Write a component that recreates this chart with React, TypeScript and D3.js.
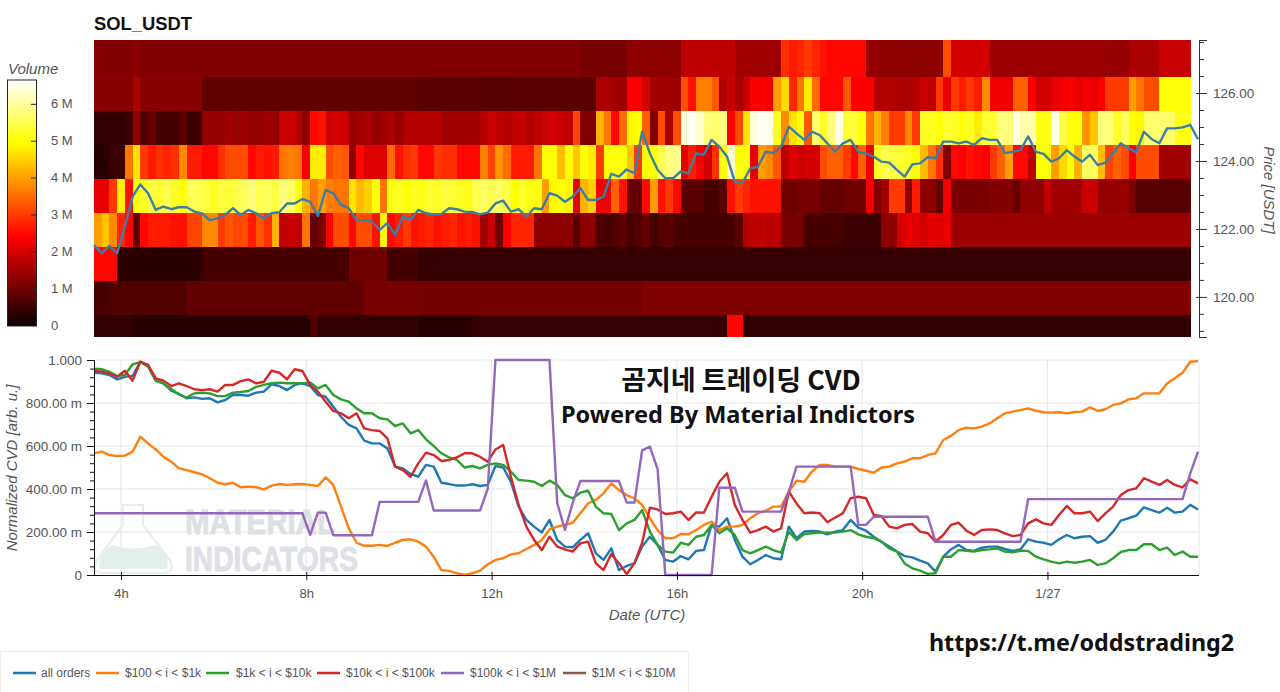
import React, { useRef, useEffect } from "react";
import * as d3 from "d3";

// volume per price bin, millions, one array per row, left to right (10 min columns)
const volTop = [
  1.2,1.2,1.2,1.2,1.2,1.3,1.2,1.2,1.2,1.2,
  1.2,1.2,1.2,1.2,1.2,1.2,1.2,1.2,1.2,1.2,
  1.2,1.2,1.2,1.2,1.2,1.2,1.2,1.2,1.2,1.2,
  1.2,1.2,1.2,1.2,1.2,1.2,1.2,1.2,1.2,1.2,
  1.2,1.2,1.2,1.2,1.2,1.2,1.2,1.2,1.2,1.2,
  1.2,1.2,1.2,1.2,1.2,1.2,1.2,1.2,1.2,1.2,
  1.2,1.2,1.2,1.1,1.1,1.1,1.1,1.1,1.1,1.3,
  1.3,1.3,1.3,1.3,1.3,1.3,1.8,1.8,1.8,1.8,
  1.8,1.8,1.8,1.5,1.5,1.5,1.5,1.5,1.5,2.9,
  2.7,2.8,3.0,2.8,2.6,2.5,2.5,2.5,2.5,2.5,
  1.4,1.4,1.3,1.3,1.3,1.3,1.3,1.3,1.3,1.3,
  3.2,2.0,2.0,2.0,2.0,2.0,1.45,1.45,1.45,1.45,
  1.45,1.45,1.45,1.45,1.45,1.45,1.45,1.45,1.45,1.45,
  1.45,1.4,1.4,1.4,1.6,1.6,1.6,1.6,1.9,1.9,
  1.9,1.9,
];
const vol126 = [
  1.25,1.25,1.25,1.25,1.25,1.6,1.25,1.25,1.25,1.25,
  1.25,1.25,1.25,1.25,.85,.85,.85,.85,.85,.85,
  .85,.85,.85,.85,.85,.85,.85,.85,.85,.85,
  .85,.85,.85,.85,.85,.85,.85,.85,.85,.85,
  .85,.85,.8,.8,.8,.8,.8,.8,.8,.8,
  .75,.75,.75,.75,.8,.8,.8,.8,.8,.8,
  .8,.8,.8,.8,.8,1.6,1.6,1.5,1.5,2.4,
  2.4,2.0,1.5,1.5,1.5,1.5,3.2,2.6,3.7,3.7,
  3.3,1.6,1.9,1.6,1.9,2.4,2.4,2.3,4.0,4.6,
  2.8,3.6,4.8,3.5,2.5,2.5,2.5,3.3,2.4,2.4,
  2.4,1.7,1.7,1.7,1.6,1.6,1.7,1.9,1.8,3.0,
  2.2,3.0,2.7,3.0,2.7,3.8,2.3,2.3,2.3,3.4,
  3.4,2.4,2.0,2.0,2.2,2.3,2.4,2.2,2.3,2.2,
  2.4,3.0,3.0,3.0,4.0,3.6,3.2,3.2,5.0,5.0,
  5.0,5.0,
];
const vol125 = [
  .4,.4,.4,.4,.5,1.4,.7,.9,.6,.6,
  .6,.8,.5,.5,1.4,1.4,1.4,1.5,1.4,1.5,
  1.4,1.4,1.5,1.4,1.9,1.9,1.7,1.3,2.5,2.6,
  1.9,2.0,1.9,1.4,1.5,1.6,1.4,1.5,1.6,1.4,
  1.7,1.7,1.7,1.7,1.7,1.5,1.5,1.5,1.5,1.5,
  1.7,1.9,1.8,1.7,1.8,1.9,1.7,1.8,1.9,2.0,
  1.9,1.8,3.1,1.2,1.2,4.2,3.6,2.5,3.5,4.9,
  5.0,3.4,1.2,3.2,1.6,3.2,6.4,6.6,6.3,5.8,
  5.7,5.8,2.4,3.2,4.7,6.4,6.6,6.5,5.2,3.8,
  4.7,5.0,3.3,5.7,5.2,5.8,6.5,5.3,5.4,5.0,
  3.6,4.2,3.7,3.0,3.0,3.8,3.0,5.2,5.2,5.0,
  5.3,5.2,5.0,5.2,4.8,5.3,5.3,5.8,5.8,6.5,
  6.1,6.1,5.1,5.1,6.5,5.4,5.0,5.0,3.9,4.4,
  5.8,5.8,5.2,5.6,5.0,4.9,5.7,5.7,5.7,5.7,
  5.1,5.1,
];
const vol124 = [
  .3,.3,.5,.5,3.6,4.7,3.0,2.7,2.9,2.8,
  2.9,3.8,2.7,2.7,2.5,2.5,2.9,3.2,3.2,3.2,
  2.5,2.7,2.6,2.7,3.6,3.7,3.6,2.4,4.8,4.8,
  3.2,3.4,3.3,1.3,2.5,2.1,2.1,2.1,3.5,2.6,
  2.9,3.0,2.5,2.5,3.0,2.9,2.9,2.5,2.5,2.5,
  3.7,3.1,3.9,3.5,2.7,2.7,2.7,3.6,5.0,5.0,
  4.3,5.0,4.4,5.0,4.8,3.0,5.0,5.0,5.0,4.4,
  3.0,5.0,5.0,5.5,5.8,5.9,2.2,2.7,2.4,2.0,
  2.9,5.0,6.3,5.0,5.0,2.2,4.0,3.8,3.3,1.8,
  2.1,1.9,2.0,2.0,3.2,3.4,3.4,3.0,2.5,3.4,
  2.3,5.2,5.5,5.4,5.3,5.2,5.0,4.3,3.6,2.9,
  1.2,2.5,2.4,2.6,2.5,2.4,3.0,3.4,4.0,2.5,
  2.5,1.8,5.0,5.0,4.0,4.6,5.0,4.2,5.6,5.6,
  4.3,3.1,3.4,3.2,2.4,3.2,3.2,3.2,1.5,1.5,
  1.5,1.5,
];
const vol123 = [
  2.2,2.2,3.0,4.8,2.6,5.0,5.2,5.4,5.3,5.5,
  5.2,5.0,5.6,5.5,5.4,5.2,5.4,5.3,5.5,5.6,
  5.8,5.5,5.6,5.4,5.8,5.6,5.0,4.2,3.6,4.0,
  3.7,3.6,3.6,4.7,4.3,4.5,5.0,3.6,5.1,5.2,
  5.0,5.2,5.1,5.3,5.2,5.4,5.3,5.2,5.1,5.5,
  5.6,5.5,5.6,5.4,5.0,5.3,5.1,5.1,4.0,4.9,
  5.0,4.9,2.2,4.2,4.5,2.3,2.3,3.4,2.6,.9,
  .9,2.5,4.0,2.6,3.0,2.5,.8,.8,.8,.6,
  .6,.8,2.6,3.0,2.8,2.6,2.6,2.6,2.6,1.0,
  1.0,1.1,1.1,1.1,.9,.9,.9,1.0,1.0,1.0,
  2.3,1.2,1.5,3.0,3.0,1.3,2.7,1.3,1.3,.9,
  2.3,1.1,1.1,1.1,1.1,1.1,1.2,1.2,1.2,.9,
  1.3,1.3,1.3,1.8,1.5,1.5,1.5,1.5,1.9,1.9,
  1.4,1.4,1.4,1.4,1.1,.75,.75,.75,.75,.75,
  .75,.75,
];
const vol122 = [
  4.0,4.4,3.8,2.8,2.5,.8,2.5,2.7,2.7,2.7,
  2.6,2.6,3.1,3.1,3.8,3.8,3.0,3.3,3.1,3.2,
  2.7,3.3,2.9,4.2,1.8,1.9,1.8,3.6,.9,1.1,
  2.4,3.2,3.2,2.5,3.2,3.2,2.6,4.9,2.5,2.7,
  3.0,2.6,2.7,2.8,2.6,2.7,2.8,2.6,2.7,2.6,
  1.5,1.9,1.0,2.4,2.8,2.8,2.8,1.3,1.3,1.3,
  1.3,1.3,.8,1.3,1.3,.7,.6,.7,.8,.6,
  .7,.9,.6,.7,.8,.6,.6,.6,.6,.6,
  .6,.6,.6,.8,1.7,1.8,1.8,1.7,1.8,1.1,
  1.1,1.1,.6,.6,.6,.6,.6,.5,.5,.5,
  .5,.5,1.3,1.3,2.0,2.2,2.1,2.0,2.2,2.1,
  2.2,1.45,1.45,1.45,1.45,1.45,1.45,1.45,1.45,1.45,
  1.45,1.45,1.45,1.45,1.45,1.45,1.45,1.45,1.45,1.45,
  1.45,1.45,1.45,1.45,1.45,1.45,1.45,1.45,1.45,1.45,
  1.45,1.45,
];
const vol121 = [
  2.5,2.5,2.5,.35,.35,.35,.35,.35,.35,.35,
  .35,.35,.35,.35,.6,.6,.6,.6,.6,.6,
  .6,.6,.6,.6,.6,.6,.6,.6,.6,.6,
  .6,.6,.6,1.0,1.0,1.0,1.0,1.0,.6,.6,
  .6,.6,.45,.45,.45,.45,.45,.45,.45,.45,
  .45,.45,.45,.45,.45,.45,.45,.45,.45,.45,
  .45,.45,.45,.45,.45,.45,.45,.45,.45,.45,
  .45,.45,.45,.45,.45,.45,.45,.45,.45,.45,
  .45,.45,.45,.45,.45,.45,.45,.45,.45,.45,
  .45,.45,.45,.45,.45,.45,.45,.45,.45,.45,
  .45,.45,.45,.45,.45,.45,.45,.45,.45,.45,
  .45,.45,.45,.45,.45,.45,.45,.45,.45,.45,
  .45,.45,.45,.45,.45,.45,.45,.45,.45,.45,
  .45,.45,.45,.45,.45,.45,.45,.45,.45,.45,
  .45,.45,
];
const vol120 = [
  .6,.6,.7,.7,.7,.7,.7,.7,.7,.7,
  .7,.7,.85,.85,.85,.85,.85,.85,.85,.85,
  .85,.85,.85,.85,.85,.85,.85,.85,.85,.85,
  .85,.85,.85,.85,.85,1.1,1.1,1.1,1.1,1.1,
  1.1,1.1,1.05,1.05,1.05,1.05,1.05,1.05,1.05,1.05,
  1.05,1.05,1.05,1.05,1.05,1.05,1.05,1.05,1.05,1.05,
  1.05,1.05,1.05,1.05,1.05,1.05,1.05,1.05,1.05,1.05,
  1.05,1.15,1.15,1.15,1.15,1.15,1.15,1.15,1.15,1.15,
  1.15,1.15,1.15,1.15,1.15,1.15,1.15,1.15,1.15,1.15,
  1.15,1.15,1.15,1.15,1.15,1.15,1.15,1.15,1.15,1.15,
  1.15,1.15,1.15,1.15,1.15,1.15,1.15,1.15,1.15,1.15,
  1.15,1.15,1.15,1.15,1.15,1.15,1.15,1.15,1.15,1.15,
  1.15,1.15,1.15,1.15,1.15,1.15,1.15,1.15,1.15,1.15,
  1.15,1.15,1.15,1.15,1.15,1.15,1.15,1.15,1.15,1.15,
  1.15,1.15,
];
const vol119 = [
  .4,.4,.4,.4,.4,.3,.3,.3,.3,.3,
  .3,.3,.3,.3,.3,.3,.3,.3,.3,.3,
  .3,.3,.3,.3,.3,.3,.3,.3,.7,.4,
  .4,.4,.4,.4,.4,.4,.4,.4,.4,.4,
  .4,.4,.3,.3,.3,.3,.3,.3,.3,.45,
  .45,.45,.45,.45,.45,.45,.45,.45,.45,.45,
  .45,.45,.45,.45,.45,.45,.45,.45,.45,.45,
  .45,.45,.45,.45,.45,.45,.45,.45,.45,.45,
  .45,.45,2.5,2.5,.4,.4,.4,.4,.4,.4,
  .4,.4,.4,.4,.4,.4,.4,.4,.4,.4,
  .4,.4,.4,.4,.4,.4,.4,.4,.4,.4,
  .4,.4,.4,.4,.4,.4,.4,.4,.4,.4,
  .4,.4,.4,.4,.4,.4,.4,.4,.4,.4,
  .4,.4,.4,.4,.4,.4,.4,.4,.4,.4,
  .4,.4,
];
// bottom to top, each row starts at its lower bin edge
const volRows = [vol119, vol120, vol121, vol122, vol123, vol124, vol125, vol126, volTop];
const binEdges = [118.47, 119.47, 120.47, 121.47, 122.47, 123.47, 124.47, 125.47, 126.47, 127.6];

const price = [
  121.53,121.28,121.5,121.28,122.07,122.95,123.31,123.05,122.56,122.66,
  122.58,122.64,122.64,122.51,122.46,122.26,122.31,122.41,122.61,122.41,
  122.56,122.46,122.31,122.46,122.49,122.75,122.75,122.88,122.8,122.38,
  123.15,123.05,122.71,122.61,122.25,122.26,122.22,121.97,122.17,121.82,
  122.36,122.26,122.56,122.46,122.43,122.44,122.61,122.58,122.51,122.5,
  122.43,122.48,122.75,122.83,122.51,122.58,122.36,122.61,122.58,123.05,
  122.98,122.8,122.95,123.2,122.85,122.85,122.95,123.62,123.54,123.75,
  123.64,124.86,124.23,123.74,123.49,123.49,123.69,123.64,124.23,124.18,
  124.62,124.42,124.13,123.39,123.36,123.78,123.83,124.27,124.23,124.42,
  125.01,124.81,124.62,124.86,124.76,124.52,124.27,124.52,124.62,124.27,
  124.22,124.13,123.98,123.95,123.74,123.54,123.9,123.93,124.11,124.08,
  124.57,124.57,124.52,124.57,124.47,124.67,124.62,124.62,124.23,124.27,
  124.32,124.72,124.27,124.21,123.98,124.08,124.32,124.13,123.98,124.18,
  123.88,123.95,124.23,124.52,124.37,124.27,124.86,124.64,124.52,124.96,
  124.96,124.99,125.06,124.64,
];

const allOrders = [
  .941,.938,.93,.91,.922,.926,.992,.972,.904,.891,
  .857,.842,.822,.826,.819,.822,.803,.814,.837,.837,
  .834,.848,.853,.887,.879,.86,.884,.891,.879,.837,
  .829,.783,.736,.698,.682,.625,.612,.612,.589,.504,
  .496,.47,.457,.512,.504,.429,.423,.416,.416,.422,
  .414,.419,.507,.5,.434,.318,.256,.225,.198,.256,
  .163,.132,.129,.163,.194,.101,.07,.124,.023,.042,
  .054,.132,.178,.14,.07,.062,.088,.073,.112,.116,
  .233,.225,.264,.163,.085,.05,.07,.093,.078,.073,
  .225,.171,.202,.205,.202,.189,.202,.209,.256,.22,
  .206,.178,.155,.132,.109,.088,.082,.067,.054,.016,
  .085,.119,.14,.116,.112,.127,.132,.132,.121,.112,
  .119,.166,.155,.15,.14,.166,.186,.171,.178,.181,
  .15,.163,.202,.253,.264,.276,.315,.302,.29,.313,
  .29,.295,.326,.305,
];
const cvd100to1k = [
  .566,.574,.558,.553,.555,.574,.643,.612,.584,.55,
  .527,.496,.488,.478,.468,.45,.429,.422,.429,.408,
  .411,.408,.398,.416,.423,.419,.422,.423,.419,.414,
  .454,.419,.318,.217,.15,.136,.136,.14,.135,.15,
  .163,.166,.155,.132,.085,.023,.019,.008,0,.008,
  .02,.05,.07,.078,.096,.101,.121,.14,.163,.212,
  .225,.233,.243,.287,.333,.349,.38,.426,.395,.372,
  .357,.326,.264,.209,.171,.171,.191,.189,.209,.233,
  .248,.209,.225,.225,.233,.264,.287,.299,.318,.318,
  .388,.439,.434,.481,.512,.512,.504,.504,.504,.493,
  .485,.476,.5,.504,.519,.527,.543,.543,.558,.566,
  .628,.647,.674,.685,.682,.69,.705,.729,.752,.76,
  .767,.775,.764,.757,.755,.757,.752,.758,.76,.78,
  .763,.771,.791,.798,.817,.822,.845,.845,.845,.891,
  .915,.941,.992,.995,
];
const cvd1kto10k = [
  .96,.957,.945,.925,.93,.98,.99,.97,.905,.89,
  .865,.84,.825,.845,.848,.845,.832,.832,.848,.851,
  .856,.875,.884,.892,.895,.892,.892,.892,.895,.868,
  .884,.837,.817,.806,.775,.752,.752,.729,.724,.693,
  .705,.659,.674,.631,.6,.566,.547,.535,.5,.507,
  .496,.512,.519,.512,.481,.442,.439,.434,.414,.439,
  .419,.372,.357,.383,.392,.318,.287,.284,.209,.24,
  .256,.302,.202,.14,.109,.104,.15,.14,.178,.186,
  .233,.194,.217,.186,.116,.101,.116,.132,.116,.104,
  .202,.163,.191,.194,.197,.197,.197,.202,.209,.189,
  .178,.171,.155,.124,.109,.054,.031,.02,.005,.008,
  .085,.085,.116,.113,.109,.116,.119,.124,.109,.105,
  .113,.112,.085,.073,.062,.054,.062,.057,.062,.07,
  .047,.054,.078,.107,.116,.116,.143,.143,.116,.127,
  .093,.109,.085,.085,
];
const cvd10kto100k = [
  .95,.946,.938,.922,.95,.904,.992,.977,.915,.904,
  .879,.891,.879,.864,.86,.864,.853,.884,.884,.902,
  .91,.891,.899,.95,.941,.91,.957,.949,.884,.853,
  .806,.763,.752,.729,.752,.682,.674,.67,.636,.504,
  .488,.457,.519,.569,.558,.53,.535,.547,.566,.566,
  .55,.527,.584,.605,.457,.326,.225,.163,.116,.178,
  .132,.119,.109,.147,.155,.054,.023,.098,.054,.005,
  .054,.15,.313,.305,.284,.287,.295,.256,.291,.29,
  .364,.434,.473,.326,.256,.197,.209,.225,.202,.217,
  .388,.333,.287,.291,.287,.245,.267,.287,.357,.364,
  .357,.279,.274,.225,.217,.233,.237,.202,.194,.155,
  .186,.233,.243,.206,.186,.209,.212,.209,.194,.181,
  .186,.24,.259,.24,.233,.279,.321,.287,.287,.295,
  .251,.287,.318,.372,.395,.403,.45,.434,.419,.442,
  .419,.408,.445,.426,
];
const cvd100kto1M = [
  .287,.287,.287,.287,.287,.287,.287,.287,.287,.287,
  .287,.287,.287,.287,.287,.287,.287,.287,.287,.287,
  .287,.287,.287,.287,.287,.287,.287,.287,.187,.29,
  .29,.185,.185,.185,.185,.185,.185,.34,.34,.34,
  .34,.34,.34,.44,.3,.3,.3,.3,.3,.3,
  .3,.4,1,1,1,1,1,1,1,1,
  .335,.21,.335,.437,.437,.437,.437,.437,.437,.337,
  .337,.58,.597,.493,0,0,0,0,0,0,
  0,.406,.406,.406,.295,.295,.295,.295,.295,.295,
  .388,.504,.504,.504,.504,.504,.504,.504,.504,.233,
  .233,.271,.271,.271,.271,.271,.271,.271,.271,.155,
  .155,.155,.155,.155,.155,.155,.155,.155,.155,.155,
  .155,.353,.353,.353,.353,.353,.353,.353,.353,.353,
  .353,.353,.353,.353,.353,.353,.353,.353,.353,.353,
  .353,.353,.473,.574,
];

const lineSeries = [allOrders, cvd100to1k, cvd1kto10k, cvd10kto100k, cvd100kto1M];
const legendNames = ["all orders", "$100 < i < $1k", "$1k < i < $10k", "$10k < i < $100k", "$100k < i < $1M", "$1M < i < $10M"];
const legendColors = ["#1f77b4", "#ff7f0e", "#2ca02c", "#d62728", "#9467bd", "#8c564b"];
const legendLineX = [13, 96, 206, 317, 441, 563];
const legendTextX = [41, 125, 236, 346, 470, 592];

const priceTicks = [120, 122, 124, 126];
const priceMinorTicks = [119, 119.5, 120.5, 121, 121.5, 122.5, 123, 123.5, 124.5, 125, 125.5, 126.5, 127, 127.5];
const cvdTicks = [0, 0.2, 0.4, 0.6, 0.8, 1];
const cvdTickLabels = ["0", "200.00 m", "400.00 m", "600.00 m", "800.00 m", "1.000"];
const cvdMinorTicks = [.04, .08, .12, .16, .24, .28, .32, .36, .44, .48, .52, .56, .64, .68, .72, .76, .84, .88, .92, .96];
const volTicks = [0, 1, 2, 3, 4, 5, 6];
const hourTicks = [4, 8, 12, 16, 20, 24];

const sans = "'Liberation Sans', Arial, sans-serif";
const grey = "#555";
const t0 = Date.UTC(2022, 0, 26, 3, 25);
const stepMs = 10 * 60 * 1000;
const timeAt = (i: number) => new Date(t0 + i * stepMs);
const hourDate = (h: number) => new Date(Date.UTC(2022, 0, 26, h));

export default function App() {
  const ref = useRef<SVGSVGElement>(null);

  useEffect(() => {
    const svg = d3.select(ref.current);
    svg.selectAll("*").remove();

    const x = d3.scaleUtc().domain([timeAt(0), timeAt(143)]).range([94, 1198]);
    const priceY = d3.scaleLinear().domain([118.82, 127.56]).range([337, 40]);
    const cvdY = d3.scaleLinear().domain([0, 1]).range([575, 360]);
    const volMax = 6.66;
    const hot = d3.scaleLinear<string>()
      .domain([0, 0.365 * volMax, 0.746 * volMax, volMax])
      .range(["#0a0000", "#ff0000", "#ffff00", "#ffffff"])
      .clamp(true);
    const volY = d3.scaleLinear().domain([0, volMax]).range([325.5, 80]);

    // heatmap
    const clip = svg.append("clipPath").attr("id", "heat");
    clip.append("rect").attr("x", 94).attr("y", 40).attr("width", 1098).attr("height", 297);
    const heat = svg.append("g").attr("clip-path", "url(#heat)").attr("shape-rendering", "crispEdges");
    volRows.forEach((row, r) => {
      heat.selectAll(null).data(row).enter().append("rect")
        .attr("x", (_, c) => x(timeAt(c)))
        .attr("width", (_, c) => x(timeAt(c + 1)) - x(timeAt(c)) + 0.6)
        .attr("y", priceY(binEdges[r + 1]))
        .attr("height", priceY(binEdges[r]) - priceY(binEdges[r + 1]))
        .attr("fill", (d) => hot(d));
    });

    const priceLine = d3.line<number>().x((_, i) => x(timeAt(i))).y((d) => priceY(d));
    svg.append("path").datum(price)
      .attr("fill", "none").attr("stroke", "#3b7ea6").attr("stroke-width", 2.4)
      .attr("stroke-linejoin", "round").attr("d", priceLine);

    // price axis
    const pa = svg.append("g").attr("transform", "translate(1199,0)");
    pa.call(d3.axisRight(priceY).tickValues(priceMinorTicks).tickSize(5).tickFormat(() => ""));
    const pb = svg.append("g").attr("transform", "translate(1199,0)");
    pb.call(d3.axisRight(priceY).tickValues(priceTicks).tickSize(8).tickPadding(6).tickFormat(d3.format(".2f")));
    pb.selectAll(".tick line").attr("x1", -3);
    pb.selectAll("text").attr("font-size", 13.5).attr("font-family", sans).attr("fill", grey);
    [pa, pb].forEach((g) => { g.select(".domain").attr("stroke", "#333"); g.selectAll(".tick line").attr("stroke", "#333"); });
    svg.append("text").attr("transform", "translate(1264,190) rotate(90)")
      .attr("text-anchor", "middle").attr("font-style", "italic").attr("font-size", 15)
      .attr("font-family", sans).attr("fill", grey).text("Price [USDT]");

    svg.append("text").attr("x", 94).attr("y", 29.5).attr("font-size", 18.4).attr("font-weight", "bold")
      .attr("font-family", sans).attr("fill", "#111").text("SOL_USDT");

    // colorbar
    const defs = svg.append("defs");
    const grad = defs.append("linearGradient").attr("id", "hotbar").attr("x1", 0).attr("x2", 0).attr("y1", 1).attr("y2", 0);
    hot.domain().forEach((d) => grad.append("stop").attr("offset", d / volMax).attr("stop-color", hot(d)));
    svg.append("rect").attr("x", 7.5).attr("y", 80).attr("width", 29).attr("height", 246)
      .attr("fill", "url(#hotbar)").attr("stroke", "#222");
    svg.append("g").selectAll("line").data(volTicks.slice(1)).enter().append("line")
      .attr("x1", 31).attr("x2", 36).attr("y1", (d) => volY(d)).attr("y2", (d) => volY(d)).attr("stroke", "#222");
    svg.append("g").selectAll("text").data(volTicks).enter().append("text")
      .attr("x", 51).attr("y", (d) => volY(d) + 4).attr("font-size", 13).attr("font-family", sans).attr("fill", grey)
      .text((d) => (d === 0 ? "0" : `${d} M`));
    svg.append("text").attr("x", 8).attr("y", 74).attr("font-size", 15).attr("font-style", "italic")
      .attr("font-family", sans).attr("fill", grey).text("Volume");

    // cvd grid
    const grid = svg.append("g").attr("stroke", "#e6e6e6");
    grid.selectAll(null).data(cvdTicks.slice(1)).enter().append("line")
      .attr("x1", 94).attr("x2", 1199).attr("y1", (d) => cvdY(d)).attr("y2", (d) => cvdY(d));
    grid.selectAll(null).data(hourTicks).enter().append("line")
      .attr("x1", (d) => x(hourDate(d))).attr("x2", (d) => x(hourDate(d))).attr("y1", 360).attr("y2", 575);
    grid.append("line").attr("x1", 1199).attr("x2", 1199).attr("y1", 360).attr("y2", 575);

    // watermark
    const mark = svg.append("g");
    mark.append("path").attr("d", "M100,569 Q97,552 113,545 Q135,552 155,545 Q171,552 167,569 Z").attr("fill", "#e4efed");
    mark.append("path").attr("d", "M123,505 H143 V525 L170,560 Q176,573 163,573 H104 Q90,573 97,560 L123,525 Z")
      .attr("fill", "none").attr("stroke", "#e9ecec").attr("stroke-width", 2);
    [["MATERIAL", 534, 150], ["INDICATORS", 571, 173]].forEach(([t, y, w]) => {
      mark.append("text").attr("x", 185).attr("y", y as number).attr("font-size", 35).attr("font-weight", "bold")
        .attr("font-family", sans).attr("fill", "#dde1e6").attr("stroke", "#dde1e6").attr("stroke-width", 1)
        .attr("textLength", w as number).attr("lengthAdjust", "spacingAndGlyphs").text(t as string);
    });

    // cvd lines
    const cvdLine = d3.line<number>().x((_, i) => x(timeAt(i))).y((d) => cvdY(d));
    lineSeries.forEach((s, k) => {
      svg.append("path").datum(s).attr("fill", "none").attr("stroke", legendColors[k])
        .attr("stroke-width", 2.4).attr("stroke-linejoin", "round").attr("d", cvdLine);
    });

    // cvd axes
    const ya = svg.append("g").attr("transform", "translate(94,0)");
    ya.call(d3.axisLeft(cvdY).tickValues(cvdMinorTicks).tickSize(4).tickFormat(() => ""));
    const yb = svg.append("g").attr("transform", "translate(94,0)");
    yb.call(d3.axisLeft(cvdY).tickValues(cvdTicks).tickSize(7).tickPadding(5)
      .tickFormat((_, i) => cvdTickLabels[i]));
    yb.selectAll("text").attr("font-size", 13.5).attr("font-family", sans).attr("fill", grey);
    const xa = svg.append("g").attr("transform", "translate(0,575)");
    xa.call(d3.axisBottom(x).tickValues(hourTicks.map(hourDate)).tickSize(5).tickPadding(9)
      .tickFormat((d) => ((d as Date).getUTCHours() === 0 ? "1/27" : `${(d as Date).getUTCHours()}h`)));
    xa.selectAll(".tick line").attr("y1", -3);
    xa.selectAll("text").attr("font-size", 13).attr("font-family", sans).attr("fill", grey);
    xa.select(".domain").attr("d", "M94,0.5H1199");
    [ya, yb, xa].forEach((g) => { g.select(".domain").attr("stroke", "#111"); g.selectAll(".tick line").attr("stroke", "#111"); });
    svg.append("text").attr("transform", "translate(17,468) rotate(-90)").attr("text-anchor", "middle")
      .attr("font-size", 15).attr("font-style", "italic").attr("font-family", sans).attr("fill", grey)
      .text("Normalized CVD [arb. u.]");
    svg.append("text").attr("x", 647).attr("y", 620).attr("text-anchor", "middle").attr("font-size", 15)
      .attr("font-style", "italic").attr("font-family", sans).attr("fill", grey).text("Date (UTC)");

    // overlays
    svg.append("text").attr("x", 741).attr("y", 390).attr("text-anchor", "middle").attr("font-size", 27)
      .attr("font-weight", "bold").attr("font-family", "'Noto Sans CJK KR'").attr("fill", "#111").text("곰지네 트레이딩 CVD");
    svg.append("text").attr("x", 738).attr("y", 423).attr("text-anchor", "middle").attr("font-size", 23.5)
      .attr("font-weight", "bold").attr("font-family", "'Noto Sans', sans-serif").attr("fill", "#111").text("Powered By Material Indictors");
    svg.append("text").attr("x", 1081.5).attr("y", 651).attr("text-anchor", "middle").attr("font-size", 23.3)
      .attr("font-weight", "bold").attr("font-family", "'Noto Sans', sans-serif").attr("fill", "#111").text("https://t.me/oddstrading2");

    // legend
    svg.append("rect").attr("x", 0.5).attr("y", 651.5).attr("width", 688).attr("height", 42)
      .attr("fill", "white").attr("stroke", "#eee");
    legendNames.forEach((n, k) => {
      svg.append("line").attr("x1", legendLineX[k]).attr("x2", legendLineX[k] + 23).attr("y1", 673).attr("y2", 673)
        .attr("stroke", legendColors[k]).attr("stroke-width", 2.5);
      svg.append("text").attr("x", legendTextX[k]).attr("y", 677).attr("font-size", 12)
        .attr("font-family", sans).attr("fill", grey).text(n);
    });
  }, []);

  return <svg ref={ref} width={1280} height={692} style={{ position: "absolute", left: 0, top: 0, background: "white" }} />;
}
